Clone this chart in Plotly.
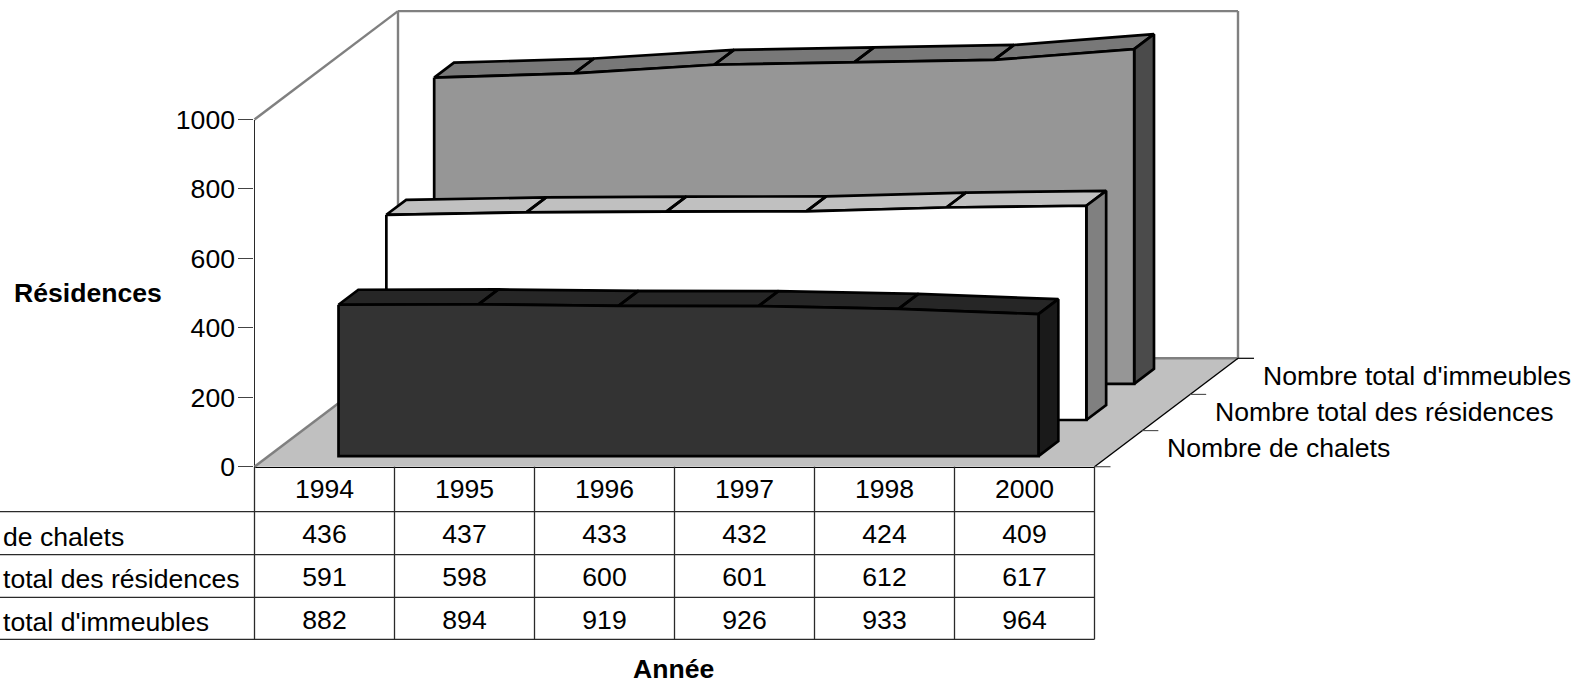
import plotly.graph_objects as go

# ---------- data ----------
years = ["1994", "1995", "1996", "1997", "1998", "2000"]
chalets = [436, 437, 433, 432, 424, 409]
residences = [591, 598, 600, 601, 612, 617]
immeubles = [882, 894, 919, 926, 933, 964]
row_labels = ["de chalets", "total des résidences", "total d'immeubles"]
depth_labels = ["Nombre de chalets", "Nombre total des résidences", "Nombre total d'immeubles"]
y_ticks = [0, 200, 400, 600, 800, 1000]

# ---------- page geometry ----------
W, H = 1577, 681
X0, XW = 254.5, 140.0      # left of the category band, width of a category
Y0, YS = 466.7, 0.3472     # pixel of value 0, pixels per value unit
DPX, DPY = 143.5, 108.4    # depth offset of the back wall, in pixels
GAP = 0.293                # part of a depth slot left empty at each side
FONT = "Liberation Sans, Arial, sans-serif"
FS = 26.6
LW = 2.7


def ux(px):
    return (px - X0) / XW - 0.5


def uy(py):
    return (Y0 - py) / YS


DX = DPX / XW
DY = DPY / YS
n = len(years)


def proj(i, v, d):
    return i + d * DX, v + d * DY


fig = go.Figure()


def poly(points, fill, color="black", width=LW):
    xs, ys = [], []
    for group in points:
        for p in group:
            xs.append(p[0])
            ys.append(p[1])
        xs.append(group[0][0])
        ys.append(group[0][1])
        xs.append(None)
        ys.append(None)
    fig.add_trace(go.Scatter(x=xs, y=ys, mode="lines", fill="toself", fillcolor=fill,
                             line=dict(color=color, width=width), xaxis="x2", yaxis="y2",
                             hoverinfo="skip", showlegend=False))


def seg(pts, color, width):
    xs, ys = [], []
    for a, b in pts:
        xs += [a[0], b[0], None]
        ys += [a[1], b[1], None]
    fig.add_trace(go.Scatter(x=xs, y=ys, mode="lines", line=dict(color=color, width=width),
                             xaxis="x2", yaxis="y2", hoverinfo="skip", showlegend=False))


L, R = -0.5, n - 0.5
GRAY = "#808080"

# floor
poly([[proj(L, 0, 0), proj(R, 0, 0), proj(R, 0, 1), proj(L, 0, 1)]], "#c0c0c0", "rgba(0,0,0,0)", 0)

# walls
seg([(proj(L, 1000, 0), proj(L, 1000, 1)),
     (proj(L, 1000, 1), proj(R, 1000, 1)),
     (proj(R, 1000, 1), proj(R, 0, 1)),
     (proj(L, 1000, 1), proj(L, 0, 1)),
     (proj(L, 0, 1), proj(R, 0, 1)),
     (proj(L, 0, 0), proj(L, 0, 1))], GRAY, 2.4)
seg([(proj(R, 0, 0), proj(R, 0, 1))], "black", 1.4)

# depth ticks
for k in range(4):
    a = proj(R, 0, k / 3)
    seg([(a, (a[0] + 16 / XW, a[1]))], "black" if k == 3 else "#555555", 1.2)

# the three ribbons, back to front
series = [
    (2, immeubles, "#969696", "#787878", "#4b4b4b"),
    (1, residences, "#ffffff", "#c0c0c0", "#808080"),
    (0, chalets, "#333333", "#262626", "#1a1a1a"),
]
for k, vals, front, top, side in series:
    df = (k + GAP) / 3
    db = (k + 1 - GAP) / 3
    poly([[proj(i, vals[i], df), proj(i + 1, vals[i + 1], df),
           proj(i + 1, vals[i + 1], db), proj(i, vals[i], db)] for i in range(n - 1)], top)
    poly([[proj(n - 1, vals[-1], df), proj(n - 1, vals[-1], db),
           proj(n - 1, 0, db), proj(n - 1, 0, df)]], side)
    poly([[proj(i, vals[i], df) for i in range(n)] +
          [proj(n - 1, 0, df), proj(0, 0, df)]], front)

# data table rules
TABLE_Y = [511.7, 554.7, 597.3, 639.3]
TABLE_INK = "#2a2a2a"
seg([((ux(0), uy(y)), (R, uy(y))) for y in TABLE_Y], TABLE_INK, 1.3)
seg([((L + c, uy(TABLE_Y[-1])), (L + c, uy(Y0))) for c in range(n + 1)], TABLE_INK, 1.3)

# table cells
ROW_Y = [536, 579.5, 622]
for row, vals, py in zip(row_labels, (chalets, residences, immeubles), ROW_Y):
    fig.add_trace(go.Scatter(x=list(range(n)), y=[uy(py)] * n, text=[str(v) for v in vals],
                             mode="text", textposition="middle center", cliponaxis=False,
                             textfont=dict(family=FONT, size=FS, color="black"),
                             xaxis="x2", yaxis="y2", hoverinfo="skip", showlegend=False))

annotations = []


def label(text, px, py, anchor="left", bold=False, height=None):
    annotations.append(dict(text=f"<b>{text}</b>" if bold else text, x=ux(px), y=uy(py),
                            xref="x2", yref="y2", xanchor=anchor, yanchor="middle",
                            showarrow=False, borderpad=0, borderwidth=0, height=height,
                            font=dict(family=FONT, size=FS, color="black")))


for text, py in zip(row_labels, [537, 579, 622]):
    label(text, 3, py)
for text, px, py in zip(depth_labels, [1166.8, 1215, 1262.5], [447.5, 411.5, 375.7]):
    label(text, px, py)
label("Résidences", 14, 293, bold=True)
label("Année", 673, 668.5, anchor="center", bold=True, height=24)

# a carrier for the visible axes
fig.add_trace(go.Scatter(x=years, y=chalets, mode="lines", line=dict(color="rgba(0,0,0,0)", width=0),
                         xaxis="x", yaxis="y", hoverinfo="skip", showlegend=False))

fig.update_layout(
    width=W, height=H, margin=dict(l=0, r=0, t=0, b=0, autoexpand=False),
    paper_bgcolor="white", plot_bgcolor="rgba(0,0,0,0)", annotations=annotations,
    xaxis=dict(domain=[X0 / W, (X0 + n * XW) / W], type="category", categoryorder="array",
               categoryarray=years, range=[-0.5, n - 0.5], anchor="y", showgrid=False,
               zeroline=False, showline=True, linecolor="black", linewidth=1.4, ticks="",
               ticklabelstandoff=-2, tickfont=dict(family=FONT, size=FS, color="black")),
    yaxis=dict(domain=[(H - Y0) / H, (H - (Y0 - 1000 * YS)) / H], range=[0, 1000], anchor="x",
               tickmode="array", tickvals=y_ticks, ticks="outside", ticklen=15, tickwidth=1.3,
               tickcolor="#444444", showgrid=False, zeroline=False, showline=True,
               linecolor="#2a2a2a", linewidth=1.4, ticklabelstandoff=-2,
               tickfont=dict(family=FONT, size=FS, color="black")),
    xaxis2=dict(domain=[0, 1], range=[ux(0), ux(W)], anchor="y2", visible=False),
    yaxis2=dict(domain=[0, 1], range=[uy(H), uy(0)], anchor="x2", visible=False),
)
fig.write_html("out.html", config=dict(displayModeBar=False),
               post_script="document.body.style.margin='0';document.body.style.overflow='hidden';")
